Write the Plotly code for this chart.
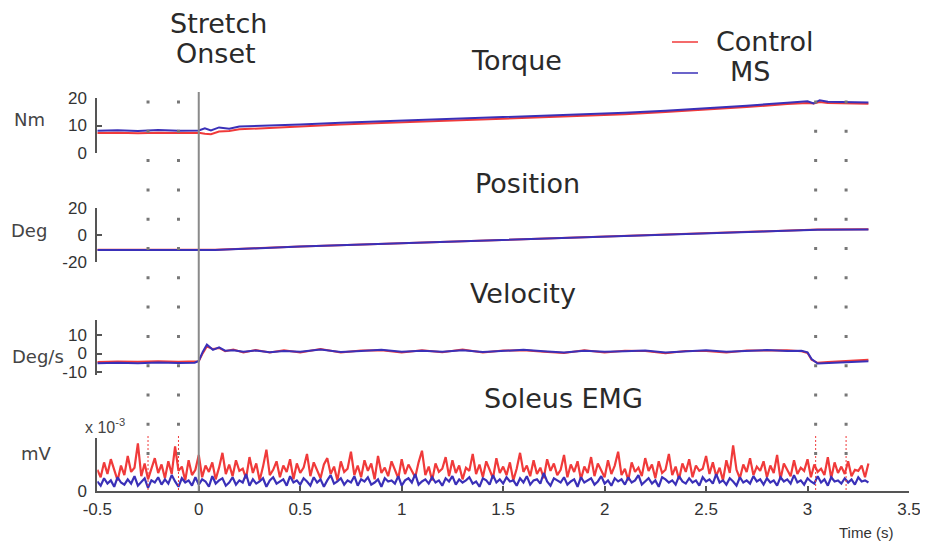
import numpy as np
import plotly.graph_objects as go

W, H = 928, 544
OFF = 8  # the page body margin shifts the figure by this many pixels

# ---------------- data ----------------
t_torque = [-0.5, -0.4, -0.3, -0.2, -0.1, 0.0, 0.03, 0.06, 0.1, 0.15,
            0.2, 0.3, 0.4, 0.5, 0.7, 0.9, 1.1, 1.3, 1.5, 1.7,
            1.9, 2.1, 2.3, 2.5, 2.7, 2.9, 3.0, 3.03, 3.06, 3.1,
            3.2, 3.3]
torque_ms = [8.1, 8.3, 8.0, 8.4, 8.1, 8.2, 9.0, 8.2, 9.3, 8.8,
             9.6, 9.8, 10.1, 10.4, 11.0, 11.5, 12.0, 12.4, 13.0, 13.5,
             14.1, 14.6, 15.4, 16.2, 17.2, 18.3, 18.8, 18.0, 19.2, 18.6,
             18.5, 18.4]
torque_control = [7.3, 7.4, 7.2, 7.4, 7.3, 7.4, 7.0, 6.8, 7.8, 8.0,
                  8.6, 9.0, 9.4, 9.8, 10.4, 10.9, 11.4, 11.9, 12.5, 13.0,
                  13.6, 14.1, 14.9, 15.7, 16.7, 17.8, 18.2, 18.0, 18.5, 18.2,
                  18.0, 17.9]

t_position = [-0.5, 0.08, 0.5, 1.0, 1.5, 2.0, 2.5, 3.0, 3.05, 3.3]
position_ms = [-11.1, -11.1, -8.6, -6.2, -3.9, -1.5, 1.0, 3.5, 3.9, 4.0]
position_control = [-11.0, -11.0, -8.5, -6.1, -3.8, -1.4, 1.1, 3.6, 4.0, 4.2]

t_velocity = [-0.5, -0.4, -0.3, -0.2, -0.1, -0.02, 0.0, 0.02, 0.04, 0.07,
              0.1, 0.13, 0.17, 0.22, 0.28, 0.35, 0.42, 0.5, 0.6, 0.7,
              0.8, 0.9, 1.0, 1.1, 1.2, 1.3, 1.4, 1.5, 1.6, 1.7,
              1.8, 1.9, 2.0, 2.1, 2.2, 2.3, 2.4, 2.5, 2.6, 2.7,
              2.8, 2.9, 2.97, 3.0, 3.02, 3.05, 3.1, 3.2, 3.3]
velocity_ms = [-5.3, -5.0, -5.2, -4.9, -5.1, -5.0, -4.0, 1.0, 4.8, 2.0,
               3.3, 1.5, 1.8, 0.9, 1.6, 0.7, 1.4, 0.9, 2.1, 0.8,
               1.3, 2.0, 0.9, 1.5, 1.0, 1.8, 0.8, 1.3, 2.0, 1.2,
               0.6, 1.5, 0.9, 1.2, 1.6, 0.5, 1.1, 1.7, 0.9, 1.3,
               1.9, 1.4, 1.5, 0.6, -3.0, -5.4, -5.2, -4.8, -4.2]
velocity_control = [-4.6, -4.3, -4.5, -4.2, -4.4, -4.5, -4.2, 0.2, 3.8, 2.4,
                    3.0, 1.2, 2.2, 0.6, 1.9, 0.5, 1.7, 0.6, 2.4, 0.5,
                    1.6, 1.7, 0.6, 1.8, 0.7, 2.1, 0.5, 1.6, 1.7, 0.9,
                    0.3, 1.8, 0.6, 1.5, 1.3, 0.2, 1.4, 1.4, 0.6, 1.6,
                    1.6, 1.7, 1.2, 0.3, -3.4, -5.0, -4.6, -4.0, -3.3]

emg_control = [2.0, 1.3, 2.7, 1.6, 3.0, 1.9, 1.0, 2.4, 1.5, 3.3,
               1.8, 2.2, 4.5, 1.4, 2.6, 1.1, 2.1, 3.1, 1.7, 2.5,
               1.2, 2.8, 1.6, 4.2, 1.9, 2.3, 1.0, 2.9, 1.5, 2.0,
               3.4, 1.3, 2.4, 1.8, 2.7, 1.1, 2.2, 3.6, 1.6, 2.5,
               1.4, 2.9, 1.9, 2.1, 1.2, 3.2, 1.7, 2.6, 1.0, 2.3,
               3.9, 1.5, 2.0, 2.8, 1.3, 2.4, 1.8, 3.0, 1.1, 2.6,
               1.7, 2.2, 3.5, 1.4, 2.7, 1.9, 1.2, 2.5, 3.1, 1.6,
               2.3, 1.0, 2.8, 1.8, 2.1, 3.7, 1.5, 2.4, 1.3, 2.9,
               1.9, 2.6, 1.1, 3.3, 1.7, 2.2, 1.4, 2.8, 2.0, 1.2,
               3.0, 1.6, 2.5, 1.9, 1.3, 2.7, 3.8, 1.5, 2.3, 1.0,
               2.6, 1.8, 2.1, 3.2, 1.4, 2.9, 1.7, 2.4, 1.1, 2.2,
               1.9, 3.5, 1.6, 2.5, 1.3, 2.8, 2.0, 1.2, 3.1, 1.7,
               2.3, 1.5, 2.7, 1.0, 2.1, 3.6, 1.8, 2.4, 1.4, 2.9,
               1.6, 2.2, 1.2, 3.0, 1.9, 2.6, 1.5, 2.0, 3.4, 1.3,
               2.5, 1.8, 2.8, 1.1, 2.3, 1.7, 3.2, 1.4, 2.6, 2.0,
               1.3, 2.9, 1.6, 2.4, 3.7, 1.5, 2.1, 1.0, 2.7, 1.8,
               2.2, 1.4, 3.1, 1.9, 2.5, 1.2, 2.8, 1.7, 2.0, 3.5,
               1.5, 2.3, 1.1, 2.6, 1.8, 3.0, 1.3, 2.4, 1.9, 2.1,
               3.3, 1.6, 2.7, 1.4, 2.2, 1.0, 2.9, 1.7, 4.3, 2.0,
               1.2, 2.5, 1.8, 3.1, 1.5, 2.3, 1.9, 2.8, 1.3, 2.4,
               1.7, 3.4, 1.1, 2.6, 2.0, 1.4, 2.9, 1.6, 2.2, 1.9,
               3.0, 1.3, 2.5, 1.8, 2.1, 1.5, 3.2, 1.2, 2.7, 1.7,
               2.3, 1.6, 2.8, 1.4, 2.0, 1.9, 2.4, 1.3, 2.6]
emg_ms = [0.9, 0.5, 1.2, 0.7, 1.0, 0.4, 1.3, 0.8, 0.6, 1.1,
          0.7, 1.4, 0.5, 0.9, 1.2, 0.3, 1.0, 0.8, 1.3, 0.6,
          1.1, 0.7, 1.5, 0.9, 0.4, 1.2, 0.8, 1.0, 0.5, 1.3,
          0.6, 1.1, 0.9, 0.4, 1.4, 0.7, 1.0, 1.2, 0.5, 0.8,
          1.3, 0.6, 1.0, 0.8, 1.6, 0.5, 1.1, 0.7, 0.9, 1.2,
          0.4, 1.0, 1.3, 0.7, 0.9, 1.1, 0.5, 1.4, 0.8, 1.0,
          0.6, 1.2, 0.9, 0.5, 1.3, 0.8, 1.1, 0.4, 1.0, 1.5,
          0.7, 0.9, 1.2, 0.6, 1.0, 0.8, 1.4, 0.5, 1.1, 0.9,
          1.3, 0.6, 0.8, 1.1, 0.4, 1.2, 0.9, 1.0, 0.7, 1.4,
          0.5, 1.0, 1.2, 0.8, 1.6, 0.6, 0.9, 1.1, 0.7, 1.3,
          0.8, 1.0, 0.5, 1.2, 0.9, 1.4, 0.6, 1.1, 0.8, 1.0,
          1.3, 0.7, 0.9, 0.4, 1.2, 1.0, 0.6, 1.5, 0.8, 1.1,
          0.7, 1.3, 0.9, 1.0, 0.5, 1.2, 0.8, 1.4, 0.6, 1.0,
          1.1, 0.7, 1.7, 0.9, 0.5, 1.2, 1.0, 0.8, 1.3, 0.6,
          0.9, 1.1, 0.4, 1.3, 0.8, 1.0, 1.2, 0.6, 0.9, 1.4,
          0.7, 1.0, 0.5, 1.2, 0.9, 1.1, 0.6, 1.3, 0.8, 1.0,
          1.5, 0.6, 0.9, 1.2, 0.7, 1.0, 0.4, 1.3, 1.1, 0.8,
          1.0, 0.6, 1.4, 0.9, 0.7, 1.2, 0.8, 1.0, 0.5, 1.3,
          0.9, 1.1, 0.7, 1.6, 0.8, 1.0, 0.6, 1.2, 0.9, 0.5,
          1.3, 0.8, 1.0, 0.7, 1.4, 0.9, 1.1, 0.6, 1.2, 0.8,
          1.0, 0.5, 1.3, 0.9, 1.1, 0.7, 1.5, 0.8, 1.0, 0.6,
          1.2, 0.9, 0.7, 1.4, 0.8, 1.1, 0.5, 1.3, 0.9, 1.0,
          0.7, 1.2, 0.8, 1.1, 0.6, 1.3, 0.9, 1.0, 0.8]
t_emg = np.linspace(-0.5, 3.3, len(emg_control))

marker_times = [-0.25, -0.1, 3.04, 3.19]
x_ticks = [-0.5, 0, 0.5, 1, 1.5, 2, 2.5, 3, 3.5]
x_ticklabels = ["-0.5", "0", "0.5", "1", "1.5", "2", "2.5", "3", "3.5"]

# ---------------- styling ----------------
RED = "#f03a3a"
BLUE = "#3a30b8"
AX = "#555555"
TXT = "#2a2a2a"
TICKFONT = dict(family="Liberation Sans, Arial, sans-serif", size=17, color="#333333")
BIG = dict(family="DejaVu Sans, sans-serif", size=27, color=TXT)
UNIT = dict(family="DejaVu Sans, sans-serif", size=18, color="#444444")


def py(p):
    """window pixel row -> paper fraction"""
    return 1 - (p - OFF) / H


def px(p):
    """window pixel column -> paper fraction"""
    return (p - OFF) / W


fig = go.Figure()

panels = [
    ("y", "x", t_torque, torque_control, torque_ms, 2),
    ("y2", "x2", t_position, position_control, position_ms, 2),
    ("y3", "x3", t_velocity, velocity_control, velocity_ms, 2),
    ("y4", "x4", list(t_emg), emg_control, emg_ms, 2.2),
]
for yref, xref, t, c, m, lw in panels:
    fig.add_trace(go.Scatter(x=t, y=c, mode="lines", line=dict(color=RED, width=lw),
                             xaxis=xref, yaxis=yref, showlegend=False, name="Control"))
    fig.add_trace(go.Scatter(x=t, y=m, mode="lines", line=dict(color=BLUE, width=lw),
                             xaxis=xref, yaxis=yref, showlegend=False, name="MS"))

xdom = [px(97.3), px(909)]
common_y = dict(showgrid=False, zeroline=False, showline=True, linecolor=AX, linewidth=2,
                ticks="inside", ticklen=5, tickwidth=2, tickcolor=AX, tickfont=TICKFONT,
                ticklabelstandoff=5, automargin=False)

layout = dict(
    width=W, height=H, margin=dict(l=0, r=0, t=0, b=0, autoexpand=False),
    paper_bgcolor="white", plot_bgcolor="rgba(0,0,0,0)", showlegend=False,
    xaxis4=dict(domain=xdom, range=[-0.5, 3.5], anchor="y4", showgrid=False, zeroline=False,
                showline=True, linecolor=AX, linewidth=2, ticks="inside", ticklen=5, tickwidth=2,
                tickcolor=AX, tickvals=x_ticks, ticktext=x_ticklabels, tickfont=TICKFONT,
                ticklabelstandoff=2, automargin=False),
    xaxis=dict(domain=xdom, matches="x4", anchor="y", visible=False, automargin=False),
    xaxis2=dict(domain=xdom, matches="x4", anchor="y2", visible=False, automargin=False),
    xaxis3=dict(domain=xdom, matches="x4", anchor="y3", visible=False, automargin=False),
    yaxis=dict(domain=[py(153), py(98)], range=[0, 20], anchor="x",
               tickvals=[0, 10, 20], ticktext=["0", "10", "20"], **common_y),
    yaxis2=dict(domain=[py(262), py(208)], range=[-20, 20], anchor="x2",
                tickvals=[-20, 0, 20], ticktext=["-20", "0", "20"], **common_y),
    yaxis3=dict(domain=[py(375), py(320)], range=[-11.6, 18.1], anchor="x3",
                tickvals=[-10, 0, 10], ticktext=["-10", "0", "10"], **common_y),
    yaxis4=dict(domain=[py(491), py(438)], range=[0, 5], anchor="x4",
                tickvals=[0], ticktext=["0"],
                minor=dict(tickvals=[5], ticks="inside", ticklen=5, tickwidth=2, tickcolor=AX),
                **common_y),
)
fig.update_layout(**layout)

shapes = []
# stretch onset line
shapes.append(dict(type="line", xref="x4", yref="paper", x0=0, x1=0, y0=py(92), y1=py(491),
                   line=dict(color="#8a8a8a", width=2)))
for mt in marker_times:
    shapes.append(dict(type="line", xref="x4", yref="paper", x0=mt, x1=mt, y0=py(436), y1=py(491),
                       line=dict(color=RED, width=1, dash="2px,2px")))
    shapes.append(dict(type="line", xref="x4", yref="paper", x0=mt, x1=mt, y0=py(100.5), y1=py(460),
                       line=dict(color="#777777", width=3, dash="3px,26.3px")))
# legend line samples
shapes.append(dict(type="line", xref="paper", yref="paper", x0=px(672), x1=px(698), y0=py(42), y1=py(42),
                   line=dict(color=RED, width=1.5)))
shapes.append(dict(type="line", xref="paper", yref="paper", x0=px(672), x1=px(698), y0=py(73), y1=py(73),
                   line=dict(color=BLUE, width=1.5)))
fig.update_layout(shapes=shapes)

ann = []


def text(t, x, y, font, xanchor="center"):
    ann.append(dict(text=t, x=px(x), y=py(y), xref="paper", yref="paper", showarrow=False,
                    xanchor=xanchor, yanchor="middle", font=font))


text("Stretch", 218, 23, BIG)
text("Onset", 216, 53, BIG)
text("Torque", 516, 61, BIG)
text("Position", 527, 183, BIG)
text("Velocity", 523, 293, BIG)
text("Soleus EMG", 563, 398, BIG)
text("Control", 714, 41, BIG, "left")
text("MS", 728, 71, BIG, "left")
text("Nm", 29, 119, UNIT)
text("Deg", 29, 230, UNIT)
text("Deg/s", 38, 356, UNIT)
text("mV", 36, 453, UNIT)
text("x 10<sup>-3</sup>", 83, 426, dict(family="Liberation Sans, Arial, sans-serif", size=16, color="#444444"), "left")
text("Time (s)", 866, 532, dict(family="Liberation Sans, Arial, sans-serif", size=15, color="#333333"))
fig.update_layout(annotations=ann)

fig.write_html("out.html")
